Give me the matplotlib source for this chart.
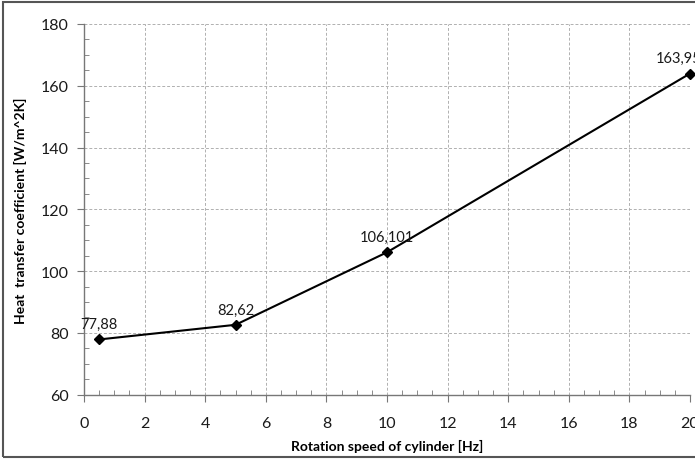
import matplotlib
matplotlib.use("Agg")
import matplotlib.pyplot as plt
from matplotlib.patches import Rectangle
from matplotlib.ticker import MultipleLocator

speed = [0.5, 5, 10, 20]
htc = [77.88, 82.62, 106.101, 163.95]
labels = ["77,88", "82,62", "106,101", "163,95"]

plt.rcParams['font.family'] = ['Lato', 'DejaVu Sans']

fig = plt.figure(figsize=(6.95, 4.6), dpi=100)
ax = fig.add_axes([0.1209, 0.1398, 0.9928 - 0.1209, 0.9457 - 0.1398])

ax.plot(speed, htc, color='black', lw=1.5, marker='D', markersize=5.5, zorder=3, clip_on=False)
for i, (x, y, t) in enumerate(zip(speed, htc, labels)):
    dx = -8 if i == len(speed) - 1 else 0
    ax.annotate(t, (x, y), xytext=(dx, 6), textcoords='offset points', ha='center', va='bottom',
                fontsize=10.5, color='#1a1a1a', annotation_clip=False)

ax.set_xlim(0, 20)
ax.set_ylim(60, 180)
ax.xaxis.set_major_locator(MultipleLocator(2))
ax.xaxis.set_minor_locator(MultipleLocator(0.5))
ax.yaxis.set_major_locator(MultipleLocator(20))
ax.yaxis.set_minor_locator(MultipleLocator(5))

ax.grid(True, which='major', color='#b0b0b0', linestyle=(0, (3, 2)), lw=0.7)
for s in ['top', 'right']:
    ax.spines[s].set_visible(False)
for s in ['left', 'bottom']:
    ax.spines[s].set_color('#777777')
    ax.spines[s].set_linewidth(1.0)

ax.tick_params(which='major', direction='out', length=5, color='#777777', labelsize=11.5, pad=6,
               labelcolor='#1a1a1a')
ax.tick_params(which='minor', direction='in', length=3.5, color='#777777')
ax.tick_params(axis='x', pad=10)

ax.set_xlabel("Rotation speed of cylinder [Hz]", fontsize=10, fontweight='bold', labelpad=7)
ax.set_ylabel("Heat  transfer coefficient [W/m^2K]", fontsize=10, fontweight='bold', labelpad=10)

fig.patches.append(Rectangle((3 / 695, 2 / 460), 1.0, 455 / 460, transform=fig.transFigure,
                             fill=False, edgecolor='#555555', lw=1.5))

fig.savefig("out.png", dpi=100)
